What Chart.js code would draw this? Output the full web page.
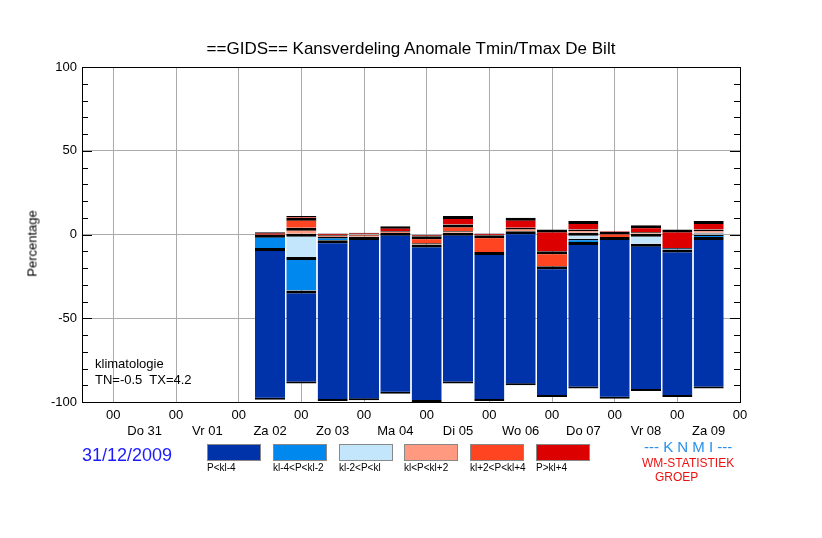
<!DOCTYPE html>
<html>
<head>
<meta charset="utf-8">
<script src="https://cdn.jsdelivr.net/npm/chart.js@4"></script>
<style>
  body { margin: 0; background: #fff; font-family: "Liberation Sans", Arial, sans-serif; }
  #wrap { position: relative; width: 822px; height: 538px; }
  .t { position: absolute; white-space: nowrap; color: #000; }
  .box { position: absolute; width: 54px; height: 17px; top: 444px; border: 1px solid #888; box-sizing: border-box; }
  .lab { position: absolute; top: 462px; font-size: 10px; }
</style>
</head>
<body>
<div id="wrap">
  <canvas id="c" width="822" height="538"></canvas>
  <div class="t" style="left:0;width:822px;text-align:center;top:39px;font-size:17px">==GIDS== Kansverdeling Anomale Tmin/Tmax De Bilt</div>
  <div class="t" style="left:-13px;top:236px;font-size:13px;transform:rotate(-90deg);transform-origin:center;width:90px;text-align:center">Percentage</div>
  <div class="t" style="left:95px;top:356px;font-size:13px">klimatologie</div>
  <div class="t" style="left:95px;top:372px;font-size:13px">TN=-0.5&nbsp; TX=4.2</div>
  <div class="t" style="left:82px;top:445px;font-size:18px;color:#1a1aff">31/12/2009</div>
  <div class="t" style="left:644px;top:438px;font-size:15px;color:#2a8fe8">--- K N M I ---</div>
  <div class="t" style="left:642px;top:456px;font-size:12px;color:#ee1111">WM-STATISTIEK</div>
  <div class="t" style="left:655px;top:470px;font-size:12px;color:#ee1111">GROEP</div>
  <div id="legend"></div>
</div>
<script>
// bar centres (days from Do 31 00h), top of each stack (percent)
const times = [2.5, 3, 3.5, 4, 4.5, 5, 5.5, 6, 6.5, 7, 7.5, 8, 8.5, 9, 9.5]
const tops = [1.4, 11, 0.6, 1, 5, 0, 11, 0.6, 10, 3, 8, 2, 6.5, 3, 8]

// class probabilities per bar (percent)
const pDark   = [90.5, 55.5, 96, 97.5, 96, 94, 90, 89, 92, 78, 87.5, 96.5, 88, 88, 90.5]
const pMid    = [8, 20, 2, 0, 0, 0, 0, 0, 0, 0, 2, 0, 0, 1, 1.5]
const pLight  = [0, 14, 0, 0, 0, 0, 0, 0, 0, 0, 3.5, 0, 6, 0, 1]
const pSalmon = [0, 3.5, 0, 0.5, 0, 1, 1, 0, 2, 0, 2, 0, 1, 0, 2]
const pOrange = [0, 6, 1, 1, 1, 4, 4, 10, 0, 9, 0, 3, 0, 0, 0]
const pRed    = [1.5, 1, 1, 1, 3, 1, 5, 1, 6, 13, 5, 0.5, 4, 11, 5]

const dayTicks = ['Do 31', 'Vr 01', 'Za 02', 'Zo 03', 'Ma 04', 'Di 05', 'Wo 06', 'Do 07', 'Vr 08', 'Za 09']

const classes = [
  { label: 'P<kl-4', data: pDark, color: '#0033aa' },
  { label: 'kl-4<P<kl-2', data: pMid, color: '#0088ee' },
  { label: 'kl-2<P<kl', data: pLight, color: '#c4e6fc' },
  { label: 'kl<P<kl+2', data: pSalmon, color: '#ff9a80' },
  { label: 'kl+2<P<kl+4', data: pOrange, color: '#ff4422' },
  { label: 'P>kl+4', data: pRed, color: '#dd0000' },
]

// build floating segments, stacked from bottom (top - 100) upwards
let base = tops.map(t => t - 100)
const datasets = classes.map((cl, k) => {
  const data = times.map((x, i) => {
    const lo = base[i]
    base[i] += cl.data[i]
    return cl.data[i] > 0 ? { x: x, y: [lo, base[i]] } : null
  }).filter(d => d)
  return {
    label: cl.label,
    data: data,
    backgroundColor: cl.color,
    borderColor: '#000',
    borderWidth: { top: 3, bottom: k === 0 ? 2 : 0, left: 0, right: 0 },
    borderSkipped: false,
    barPercentage: 0.96,
    categoryPercentage: 1,
    grouped: false,
  }
})

// html legend
const legend = document.getElementById('legend')
const boxX = [207, 273, 339, 404, 470, 536]
classes.forEach((cl, i) => {
  const b = document.createElement('div')
  b.className = 'box'
  b.style.left = boxX[i] + 'px'
  b.style.background = cl.color
  legend.appendChild(b)
  const l = document.createElement('div')
  l.className = 't lab'
  l.style.left = boxX[i] + 'px'
  l.textContent = cl.label
  legend.appendChild(l)
})

const frame = {
  id: 'frame',
  afterDraw(chart) {
    const c = chart.ctx, a = chart.chartArea, y = chart.scales.y
    c.save()
    c.strokeStyle = '#000'
    c.lineWidth = 1
    c.strokeRect(a.left + 0.5, a.top + 0.5, a.right - a.left, a.bottom - a.top)
    for (let v = -100; v <= 100; v += 10) {
      const p = Math.round(y.getPixelForValue(v)) + 0.5
      const len = v % 50 === 0 ? 10 : 6
      c.beginPath()
      c.moveTo(a.left, p); c.lineTo(a.left + len, p)
      c.moveTo(a.right, p); c.lineTo(a.right - len, p)
      c.stroke()
    }
    c.restore()
  }
}

new Chart(document.getElementById('c'), {
  type: 'bar',
  data: { datasets: datasets },
  options: {
    responsive: false,
    animation: false,
    layout: { padding: { left: 0, right: 82, top: 67, bottom: 100 } },
    plugins: { legend: { display: false }, tooltip: { enabled: false } },
    scales: {
      x: {
        type: 'linear', min: -0.5, max: 10, offset: false,
        afterFit: s => { s.height = 36 },
        afterBuildTicks: s => {
          s.ticks = []
          for (let v = 0; v <= 20; v++) s.ticks.push({ value: v / 2 })
        },
        ticks: {
          color: '#000', font: { size: 13, family: 'Liberation Sans' }, maxRotation: 0, autoSkip: false, padding: 6,
          callback: v => Number.isInteger(v) ? '00' : ['', dayTicks[Math.floor(v)]]
        },
        grid: {
          offset: false,
          color: ctx => (ctx.tick && !Number.isInteger(ctx.tick.value)) ? 'transparent' : '#aaa',
          drawTicks: false
        },
        border: { color: '#000' }
      },
      y: {
        min: -100, max: 100,
        afterFit: s => { s.width = 82 },
        afterBuildTicks: s => {
          s.ticks = [-100, -50, 0, 50, 100].map(v => ({ value: v }))
        },
        ticks: { color: '#000', font: { size: 13, family: 'Liberation Sans' }, padding: 5 },
        grid: { color: '#aaa', drawTicks: false },
        border: { color: '#000' }
      }
    }
  },
  plugins: [frame]
})
</script>
</body>
</html>
